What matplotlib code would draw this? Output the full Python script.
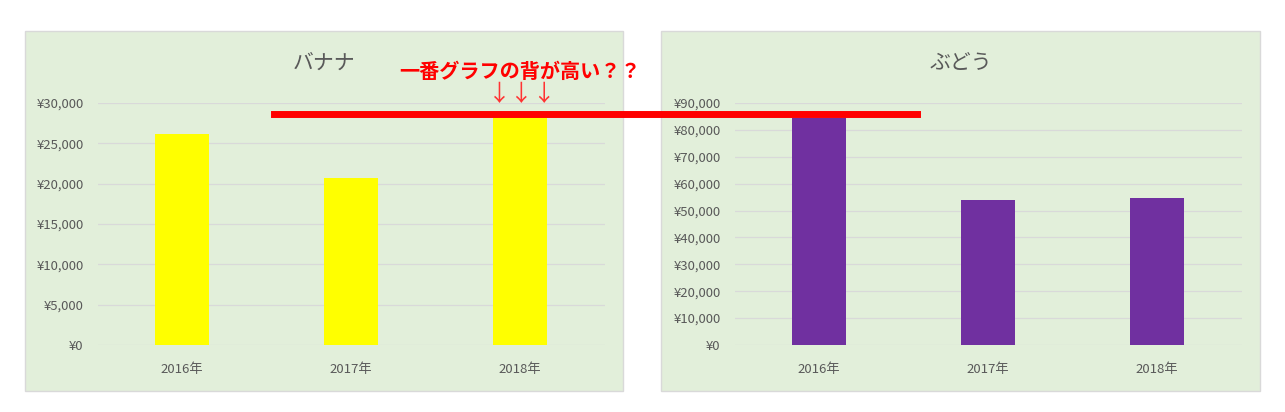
import matplotlib.pyplot as plt
from matplotlib.lines import Line2D
from matplotlib.patches import Rectangle
from matplotlib.ticker import FuncFormatter, MultipleLocator

plt.rcParams["font.family"] = ["Noto Sans CJK JP", "DejaVu Sans"]

years = ["2016年", "2017年", "2018年"]
banana = [26200, 20700, 28300]
grape = [84400, 54000, 54700]

TEXT = "#595959"
GRID = "#D9D9D9"
PANEL = "#E2EFDA"


def yen(v, _pos):
    return f"¥{v:,.0f}"


def draw_panel(fig, rect, ax_rect, title, values, color, ymax, step):
    fig.patches.append(Rectangle(rect[:2], rect[2], rect[3], transform=fig.transFigure,
                                 facecolor=PANEL, edgecolor=GRID, lw=1.0, zorder=-5))
    ax = fig.add_axes(ax_rect)
    ax.set_facecolor("none")
    x = range(len(years))
    ax.bar(x, values, width=0.315, color=color, zorder=3)
    ax.set_xlim(-0.5, len(years) - 0.5)
    ax.set_ylim(0, ymax)
    ax.yaxis.set_major_locator(MultipleLocator(step))
    ax.yaxis.set_major_formatter(FuncFormatter(yen))
    ax.set_xticks(list(x))
    ax.set_xticklabels(years)
    ax.grid(axis="y", color=GRID, lw=0.9, zorder=1)
    ax.set_axisbelow(True)
    ax.tick_params(length=0, labelsize=9.5, labelcolor=TEXT)
    ax.tick_params(axis="y", pad=10)
    ax.tick_params(axis="x", pad=13)
    for s in ax.spines.values():
        s.set_visible(False)
    cx = rect[0] + rect[2] / 2
    fig.text(cx, 1 - 63 / 412, title, ha="center", va="center", fontsize=15, color=TEXT)
    return ax


def main():
    fig = plt.figure(figsize=(12.85, 4.12), dpi=100)

    draw_panel(fig, (0.0195, 0.051, 0.4654, 0.8738), (0.0759, 0.1626, 0.3946, 0.5874),
               "バナナ", banana, "#FFFF00", 30000, 5000)
    draw_panel(fig, (0.5144, 0.051, 0.4661, 0.8738), (0.5716, 0.1626, 0.3946, 0.5874),
               "ぶどう", grape, "#7030A0", 90000, 10000)

    # red comparison line + note
    fig.add_artist(Line2D([274 / 1285, 917 / 1285], [1 - 113.5 / 412, 1 - 113.5 / 412],
                          transform=fig.transFigure, color="#FF0000", lw=5, zorder=10))
    fig.text(520 / 1285, 1 - 71 / 412, "一番グラフの背が高い？？", ha="center", va="center",
             fontsize=14.5, color="#FF0000", fontweight="bold", zorder=11)
    fig.text(522 / 1285, 1 - 95 / 412, "↓↓↓", ha="center", va="center",
             fontsize=16.5, color="#FF3333", zorder=11)

    fig.savefig("out.png", dpi=100)


if __name__ == "__main__":
    main()
